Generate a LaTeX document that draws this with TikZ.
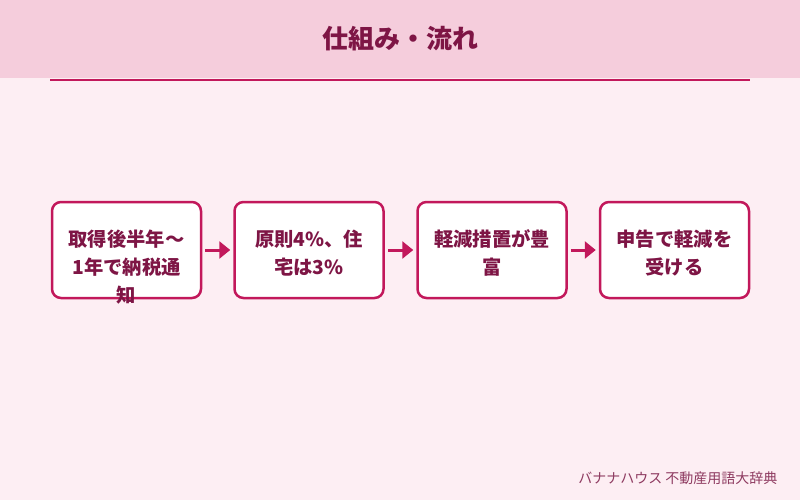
\documentclass[tikz,border=0pt]{standalone}
\usepackage{fontspec}
\setmainfont{Noto Sans CJK JP}
\usetikzlibrary{arrows.meta}
\definecolor{bgpink}{HTML}{FDEEF3}
\definecolor{headpink}{HTML}{F5CDDC}
\definecolor{accent}{HTML}{C2185B}
\definecolor{deeptext}{HTML}{7E1545}
\definecolor{foottext}{HTML}{8E3A60}
\tikzset{
  stepbox/.style={draw=accent, line width=2.5pt, fill=white, rounded corners=9pt,
    minimum width=149pt, minimum height=96pt, inner sep=0pt},
  steptext/.style={text=deeptext, font=\fontsize{19.3}{28}\selectfont\bfseries, align=center, anchor=north},
  flow/.style={draw=accent, line width=3pt, -{Triangle[length=11pt,width=17pt]}, shorten <=3pt, shorten >=3pt}
}
\begin{document}
\begin{tikzpicture}[x=1pt,y=-1pt]
\useasboundingbox (0,0) rectangle (800,500);
\fill[bgpink] (0,0) rectangle (800,500);
\fill[headpink] (0,0) rectangle (800,78);
\node (title) at (400,39) {\fontsize{26}{30}\selectfont\bfseries\color{deeptext}仕組み・流れ};
\coordinate (rulel) at (50,80.5);
\coordinate (ruler) at (750,80.5);
\draw[accent, line width=2pt] (rulel) -- (ruler);
\node[stepbox] (b1) at (126.5,250) {};
\node[stepbox] (b2) at (309,250) {};
\node[stepbox] (b3) at (492,250) {};
\node[stepbox] (b4) at (674.5,250) {};
\node[steptext] (t1) at (126.5,226.5) {取得後半年～\\1年で納税通\\知};
\node[steptext] (t2) at (309,226.5) {原則4\%、住\\宅は3\%};
\node[steptext] (t3) at (492,226.5) {軽減措置が豊\\富};
\node[steptext] (t4) at (674.5,226.5) {申告で軽減を\\受ける};
\draw[flow] (b1) -- (b2);
\draw[flow] (b2) -- (b3);
\draw[flow] (b3) -- (b4);
\node[anchor=east, text=foottext, font=\fontsize{14}{16}\selectfont] (foot) at (781,478) {バナナハウス 不動産用語大辞典};
\end{tikzpicture}
\end{document}
